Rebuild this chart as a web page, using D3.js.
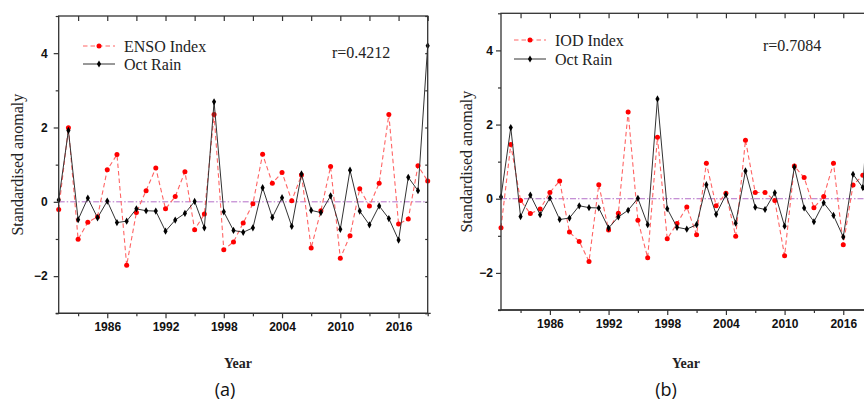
<!DOCTYPE html>
<html>
<head>
<meta charset="utf-8">
<script src="https://cdn.jsdelivr.net/npm/d3@7"></script>
<style>
  html, body { margin: 0; padding: 0; background: #fff; }
  svg { display: block; }
</style>
</head>
<body>
<svg id="chart" width="864" height="404"></svg>
<script>
// years 1981 - 2019
const years = d3.range(1981, 2020);

const octRain = [
  0.05, 1.92, -0.48, 0.10, -0.43, 0.02, -0.56, -0.52, -0.19, -0.24,
  -0.25, -0.79, -0.49, -0.31, 0.01, -0.70, 2.69, -0.27, -0.77, -0.82,
  -0.70, 0.38, -0.42, 0.11, -0.66, 0.75, -0.23, -0.29, 0.16, -0.74,
  0.85, -0.25, -0.62, -0.11, -0.45, -1.03, 0.66, 0.30, 4.20
];

const ensoIndex = [
  -0.21, 1.99, -1.01, -0.55, -0.40, 0.86, 1.27, -1.71, -0.29, 0.30,
  0.91, -0.19, 0.14, 0.81, -0.75, -0.33, 2.35, -1.29, -1.08, -0.57,
  -0.05, 1.28, 0.50, 0.79, 0.03, 0.72, -1.24, -0.24, 0.95, -1.52,
  -0.91, 0.35, -0.11, 0.50, 2.35, -0.60, -0.46, 0.97, 0.56
];

// 2019 value is outside the picture
const iodIndex = [
  -0.78, 1.46, -0.05, -0.40, -0.28, 0.17, 0.48, -0.90, -1.15, -1.69,
  0.38, -0.84, -0.39, 2.34, -0.58, -1.59, 1.66, -1.08, -0.67, -0.22,
  -0.97, 0.96, -0.19, 0.15, -1.01, 1.58, 0.17, 0.17, -0.05, -1.54,
  0.88, 0.57, -0.24, 0.06, 0.96, -1.24, 0.37, 0.63
];

const yearTicks = [1986, 1992, 1998, 2004, 2010, 2016];
const yearMinorTicks = [1983, 1989, 1995, 2001, 2007, 2013, 2019];
const valueTicks = [-2, 0, 2, 4];
const valueMinorTicks = [-3, -1, 1, 3, 5];

const svg = d3.select("#chart");

const panels = [
  {
    left: 58.7, right: 427.7, top: 16, bottom: 313.3,
    index: ensoIndex, indexName: "ENSO Index", r: "r=0.4212", tag: "(a)",
    labelGap: 11, titleX: 17.5,
    legendX: 83, legendY: [46, 64], rX: 332, rY: 52,
    yearX: 238, tagX: 225
  },
  {
    left: 501, right: 872.6, top: 13.3, bottom: 310,
    index: iodIndex, indexName: "IOD Index", r: "r=0.7084", tag: "(b)",
    labelGap: 8, titleX: 466.5,
    legendX: 514, legendY: [40, 59], rX: 763, rY: 45,
    yearX: 686, tagX: 666
  }
];

const serif = "'Liberation Serif', 'Times New Roman', serif";
const sans = "'Liberation Sans', Arial, sans-serif";

panels.forEach((p) => {
  const x = d3.scaleLinear().domain([1981, 2019]).range([p.left, p.right]);
  const y = d3.scaleLinear().domain([-3, 5]).range([p.bottom, p.top]);
  const g = svg.append("g");

  // zero line
  g.append("line")
    .attr("x1", p.left).attr("x2", p.right)
    .attr("y1", y(0)).attr("y2", y(0))
    .attr("stroke", "#b46ec8")
    .attr("stroke-width", 1)
    .attr("stroke-dasharray", "6,2,1.5,2");

  // index series
  const idxData = p.index.map((v, i) => ({ year: years[i], v }));
  g.append("path")
    .datum(idxData)
    .attr("fill", "none")
    .attr("stroke", "#ff6464")
    .attr("stroke-width", 1.1)
    .attr("stroke-dasharray", "4.5,3")
    .attr("d", d3.line().x((d) => x(d.year)).y((d) => y(d.v)));

  g.selectAll("circle.idx")
    .data(idxData)
    .join("circle")
    .attr("class", "idx")
    .attr("cx", (d) => x(d.year))
    .attr("cy", (d) => y(d.v))
    .attr("r", 2.5)
    .attr("fill", "#ff0000");

  // rain series
  const rainData = octRain.map((v, i) => ({ year: years[i], v }));
  g.append("path")
    .datum(rainData)
    .attr("fill", "none")
    .attr("stroke", "#333")
    .attr("stroke-width", 1)
    .attr("d", d3.line().x((d) => x(d.year)).y((d) => y(d.v)));

  const diamond = d3.symbol(d3.symbolDiamond).size(15);
  g.selectAll("path.rain")
    .data(rainData)
    .join("path")
    .attr("class", "rain")
    .attr("transform", (d) => `translate(${x(d.year)},${y(d.v)})`)
    .attr("d", diamond)
    .attr("fill", "#000");

  // frame
  g.append("rect")
    .attr("x", p.left).attr("y", p.top)
    .attr("width", p.right - p.left).attr("height", p.bottom - p.top)
    .attr("fill", "none")
    .attr("stroke", "#333")
    .attr("stroke-width", 1.3);

  // bottom axis
  const bottom = g.append("g")
    .attr("transform", `translate(0,${p.bottom})`)
    .call(d3.axisBottom(x).tickValues(yearTicks).tickFormat(d3.format("d"))
      .tickSize(5).tickPadding(4).tickSizeOuter(0));
  bottom.select(".domain").attr("stroke", "#333").attr("stroke-width", 1.3)
    .attr("d", `M${p.left - 3},0H${p.right + 3}`);
  bottom.selectAll(".tick line").attr("stroke", "#333").attr("stroke-width", 1.2);
  bottom.selectAll("text")
    .attr("font-family", sans).attr("font-weight", "bold")
    .attr("font-size", 12).attr("fill", "#111");
  g.append("g")
    .attr("transform", `translate(0,${p.bottom})`)
    .call(d3.axisBottom(x).tickValues(yearMinorTicks).tickFormat("").tickSize(3).tickSizeOuter(0))
    .call((a) => a.select(".domain").remove())
    .selectAll(".tick line").attr("stroke", "#333").attr("stroke-width", 1.2);

  // top axis ticks (inward)
  g.append("g")
    .attr("transform", `translate(0,${p.top})`)
    .call(d3.axisBottom(x).tickValues(yearTicks.concat(yearMinorTicks)).tickFormat("").tickSize(5).tickSizeOuter(0))
    .call((a) => a.select(".domain").remove())
    .selectAll(".tick line").attr("stroke", "#333").attr("stroke-width", 1.2);

  // left axis
  const leftAx = g.append("g")
    .attr("transform", `translate(${p.left},0)`)
    .call(d3.axisLeft(y).tickValues(valueTicks).tickFormat(d3.format("d"))
      .tickSize(5).tickPadding(p.labelGap - 5).tickSizeOuter(0));
  leftAx.select(".domain").remove();
  leftAx.selectAll(".tick line").attr("stroke", "#333").attr("stroke-width", 1.2);
  leftAx.selectAll("text")
    .attr("font-family", sans).attr("font-weight", "bold")
    .attr("font-size", 12).attr("fill", "#111");
  g.append("g")
    .attr("transform", `translate(${p.left},0)`)
    .call(d3.axisLeft(y).tickValues(valueMinorTicks).tickFormat("").tickSize(3).tickSizeOuter(0))
    .call((a) => a.select(".domain").remove())
    .selectAll(".tick line").attr("stroke", "#333").attr("stroke-width", 1.2);

  // right axis ticks (inward)
  g.append("g")
    .attr("transform", `translate(${p.right},0)`)
    .call(d3.axisRight(y).tickValues(valueTicks.concat(valueMinorTicks)).tickFormat("").tickSize(-2.5).tickSizeOuter(0))
    .call((a) => a.select(".domain").remove())
    .selectAll(".tick line").attr("stroke", "#333").attr("stroke-width", 1.2);

  // axis titles
  g.append("text")
    .attr("transform", `translate(${p.titleX},${(p.top + p.bottom) / 2}) rotate(-90)`)
    .attr("text-anchor", "middle")
    .attr("dy", "0.35em")
    .attr("font-family", serif)
    .attr("font-size", 16)
    .attr("fill", "#222")
    .text("Standardised anomaly");

  g.append("text")
    .attr("x", p.yearX).attr("y", 363)
    .attr("dy", "0.35em")
    .attr("text-anchor", "middle")
    .attr("font-family", serif)
    .attr("font-weight", "bold")
    .attr("font-size", 14)
    .attr("fill", "#222")
    .text("Year");

  g.append("text")
    .attr("x", p.tagX).attr("y", 390)
    .attr("dy", "0.35em")
    .attr("text-anchor", "middle")
    .attr("font-family", "'Open Sans', sans-serif")
    .attr("font-size", 18)
    .attr("fill", "#111")
    .text(p.tag);

  // legend
  const lg = g.append("g");
  const lx0 = p.legendX, lx1 = p.legendX + 32;
  lg.append("line")
    .attr("x1", lx0).attr("x2", lx1)
    .attr("y1", p.legendY[0]).attr("y2", p.legendY[0])
    .attr("stroke", "#ff6464").attr("stroke-width", 1.1)
    .attr("stroke-dasharray", "4.5,3");
  lg.append("circle")
    .attr("cx", (lx0 + lx1) / 2).attr("cy", p.legendY[0])
    .attr("r", 2.5).attr("fill", "#ff0000");
  lg.append("line")
    .attr("x1", lx0).attr("x2", lx1)
    .attr("y1", p.legendY[1]).attr("y2", p.legendY[1])
    .attr("stroke", "#333").attr("stroke-width", 1);
  lg.append("path")
    .attr("transform", `translate(${(lx0 + lx1) / 2},${p.legendY[1]})`)
    .attr("d", diamond).attr("fill", "#000");
  lg.selectAll("text.lab")
    .data([p.indexName, "Oct Rain"])
    .join("text")
    .attr("class", "lab")
    .attr("x", lx1 + 9)
    .attr("y", (d, i) => p.legendY[i])
    .attr("dy", "0.35em")
    .attr("font-family", serif)
    .attr("font-size", 16)
    .attr("fill", "#222")
    .text((d) => d);

  g.append("text")
    .attr("x", p.rX).attr("y", p.rY)
    .attr("dy", "0.35em")
    .attr("font-family", serif)
    .attr("font-size", 16)
    .attr("fill", "#222")
    .text(p.r);
});
</script>
</body>
</html>
